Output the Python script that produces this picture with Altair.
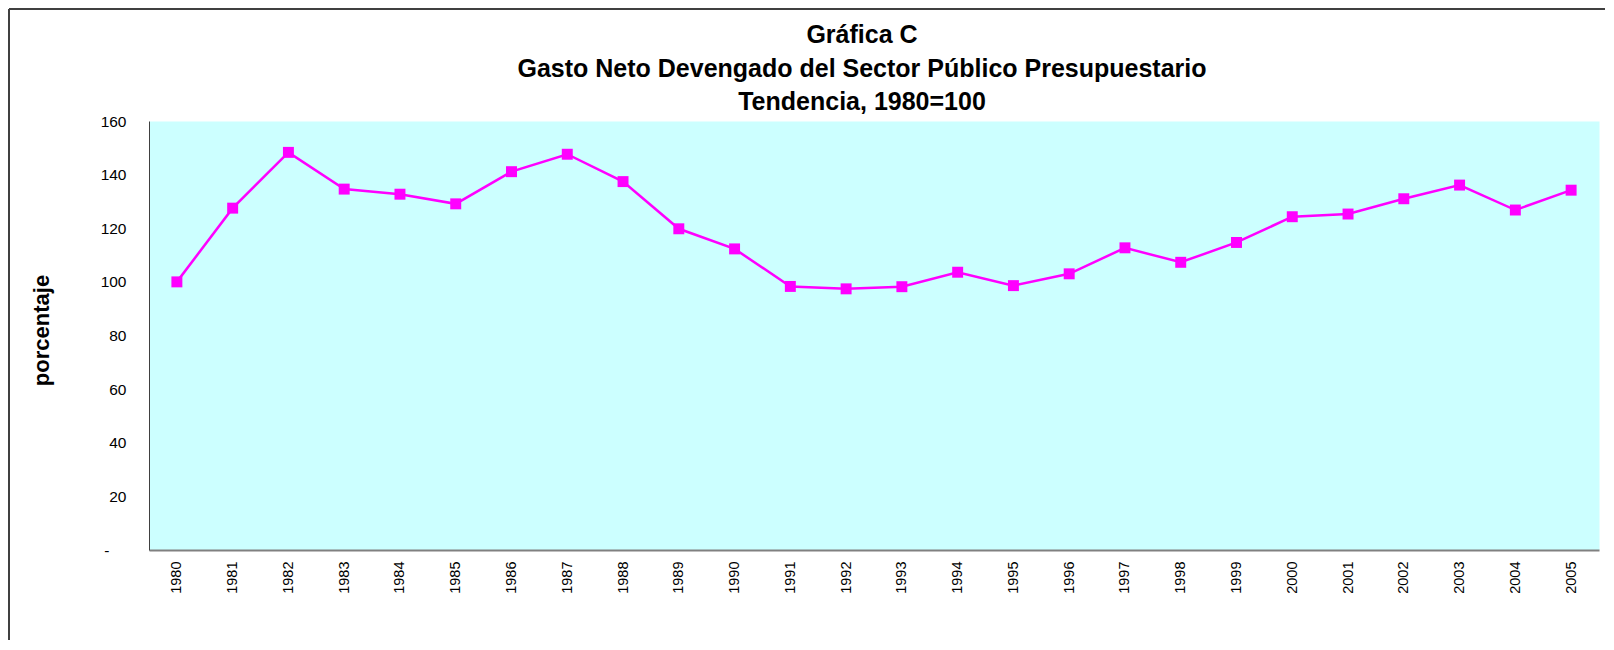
import altair as alt
import pandas as pd

years = [str(y) for y in range(1980, 2006)]
values = [100.0, 127.5, 148.3, 134.6, 132.7, 129.1, 141.1, 147.6, 137.4, 119.8,
          112.3, 98.3, 97.4, 98.2, 103.6, 98.6, 103.0, 112.7, 107.3, 114.7,
          124.3, 125.3, 131.0, 136.1, 126.8, 134.2]
title_lines = ["Gráfica C",
               "Gasto Neto Devengado del Sector Público Presupuestario",
               "Tendencia, 1980=100"]
y_title = "porcentaje"

df = pd.DataFrame({"year": years, "value": values})

W, H = 1450, 429
PL, PT, PR, PB = 141, 113, 6, 90
FONT = "Liberation Sans"

x = alt.X("year:O", sort=years,
          scale=alt.Scale(type="point", padding=0.5),
          axis=alt.Axis(title=None, labelAngle=270, labelAlign="right",
                        labelBaseline="middle", labelFontSize=14.5,
                        labelFont=FONT, labelColor="black", labelPadding=11,
                        ticks=False, tickSize=0, domainColor="#808080",
                        domainWidth=2, grid=False))
y = alt.Y("value:Q",
          scale=alt.Scale(domain=[0, 160], nice=False, zero=True),
          axis=alt.Axis(title=y_title, values=list(range(0, 161, 20)),
                        labelExpr="datum.value === 0 ? '-' : datum.label",
                        labelFontSize=15.5, labelFont=FONT, labelColor="black",
                        labelPadding={"condition": {"test": "datum.value === 0", "value": 40},
                                      "value": 23},
                        ticks=False, tickSize=0,
                        domainColor="#404040", domainWidth=1, grid=False,
                        titleFont=FONT, titleFontSize=22, titleFontWeight="bold",
                        titleColor="black", titleAngle=270, titleX=-108,
                        titleY=209, titleAlign="center", titleBaseline="middle"))

line = alt.Chart(df).mark_line(color="#FF00FF", strokeWidth=2.5).encode(x=x, y=y)
pts = alt.Chart(df).mark_point(shape="square", filled=True, size=120,
                               color="#FF00FF", opacity=1).encode(x=x, y=y)

frame_top = alt.Chart(df).mark_rule(color="#404040", strokeWidth=2).encode(
    x=alt.value(-140), x2=alt.value(W + PR), y=alt.value(-112))
frame_left = alt.Chart(df).mark_rule(color="#404040", strokeWidth=2).encode(
    x=alt.value(-140), y=alt.value(-112), y2=alt.value(H + PB))

chart = alt.layer(frame_top, frame_left, line, pts).properties(
    width=W, height=H,
    autosize=alt.AutoSizeParams(type="none"),
    padding={"left": PL, "top": PT, "right": PR, "bottom": PB},
    title=alt.TitleParams(text=title_lines, font=FONT, fontSize=25,
                          fontWeight="bold", color="black", anchor="middle",
                          dx=-12, dy=121, lineHeight=33.5, offset=14),
).configure(background="white",
            view=alt.ViewConfig(fill="#CCFFFF", stroke="transparent"))

chart.save("out.html", embed_options={"renderer": "svg", "actions": False})
